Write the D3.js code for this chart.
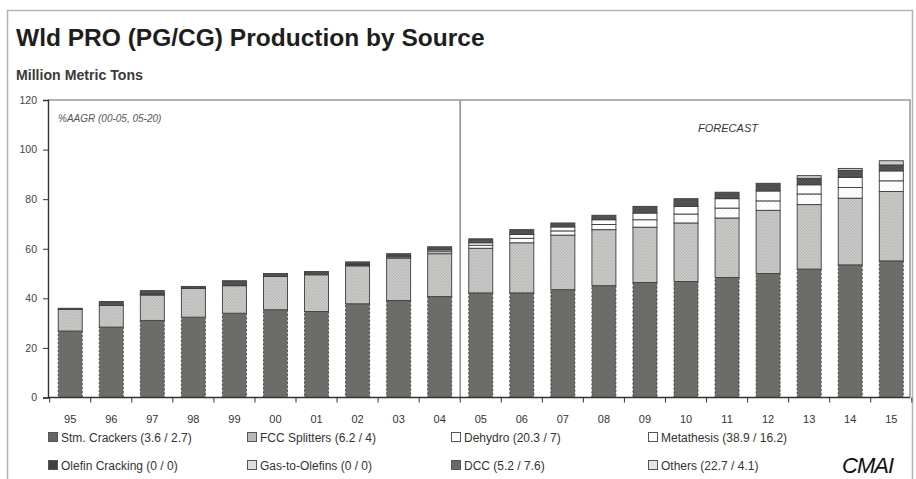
<!DOCTYPE html>
<html>
<head>
<meta charset="utf-8">
<script src="https://cdn.jsdelivr.net/npm/d3@7"></script>
<style>
  html, body { margin: 0; padding: 0; background: #fff; }
  svg { display: block; font-family: "Liberation Sans", Arial, sans-serif; }
</style>
</head>
<body>
<svg id="chart" width="916" height="479"></svg>
<script>
// Years on the category axis (two-digit labels)
const years = ["95","96","97","98","99","00","01","02","03","04",
               "05","06","07","08","09","10","11","12","13","14","15"];

// Production by source, million metric tons
const stmCrackers    = [26.8,28.4,31.1,32.4,34.0,35.4,34.7,37.8,39.1,40.7,42.2,42.2,43.5,45.1,46.4,46.8,48.4,50.0,51.8,53.5,55.1];
const fccSplitters   = [ 8.7, 8.7,10.2,11.6,11.1,13.4,14.8,15.3,17.1,17.3,18.0,20.2,22.0,22.6,22.3,23.6,24.0,25.5,26.0,26.9,28.0];
const dehydro        = [ 0.0, 0.0, 0.3, 0.0, 0.0, 0.0, 0.0, 0.4, 0.5, 0.8, 1.2, 1.8, 1.7, 2.1, 3.0, 3.6, 4.0, 3.8, 4.3, 4.3, 4.3];
const metathesis     = [ 0.0, 0.0, 0.2, 0.0, 0.0, 0.0, 0.0, 0.3, 0.4, 0.7, 1.0, 1.6, 1.6, 1.9, 2.7, 3.1, 3.8, 4.0, 3.7, 4.1, 4.0];
const olefinCracking = [ 0,0,0,0,0,0,0,0,0,0,0,0,0,0,0,0,0,0,0,0,0];
const gasToOlefins   = [ 0,0,0,0,0,0,0,0,0,0,0,0,0,0,0,0,0,0,0,0,0];
const dcc            = [ 0.5, 1.6, 1.3, 0.8, 2.0, 1.2, 1.3, 0.9, 0.9, 1.3, 1.6, 1.9, 1.6, 1.8, 2.7, 3.1, 2.6, 3.1, 2.6, 2.8, 2.4];
const others         = [ 0,0,0,0,0,0,0,0,0,0,0,0,0,0,0,0,0,0,1.1,0.8,1.7];

// Series names with %AAGR (00-05 / 05-20)
const seriesLabels = [
  "Stm. Crackers (3.6 / 2.7)", "FCC Splitters (6.2 / 4)", "Dehydro (20.3 / 7)", "Metathesis (38.9 / 16.2)",
  "Olefin Cracking (0 / 0)", "Gas-to-Olefins (0 / 0)", "DCC (5.2 / 7.6)", "Others (22.7 / 4.1)"
];
const seriesValues = [stmCrackers, fccSplitters, dehydro, metathesis, olefinCracking, gasToOlefins, dcc, others];
const stackOrder = [0, 1, 2, 3, 4, 5, 6, 7];

const yTicks = [0, 20, 40, 60, 80, 100, 120];
const firstForecast = "05";

const svg = d3.select("#chart");
const defs = svg.append("defs");

// Speckled fills in the style of an office-chart print
function dotPattern(id, bg, dot, size, r) {
  const p = defs.append("pattern").attr("id", id).attr("patternUnits", "userSpaceOnUse")
    .attr("width", size).attr("height", size);
  p.append("rect").attr("width", size).attr("height", size).attr("fill", bg);
  p.append("circle").attr("cx", size * 0.25).attr("cy", size * 0.25).attr("r", r).attr("fill", dot);
  p.append("circle").attr("cx", size * 0.75).attr("cy", size * 0.75).attr("r", r).attr("fill", dot);
}
dotPattern("pStm", "#6d6d69", "#62625f", 4, 0.6);
dotPattern("pFcc", "#c9c9c7", "#a9a9a7", 3, 0.55);
dotPattern("pDeh", "#ffffff", "#dcdcdc", 4, 0.5);
dotPattern("pMet", "#ffffff", "#e8e8e8", 4, 0.4);
dotPattern("pOlc", "#3a3a3a", "#222", 3, 0.5);
dotPattern("pGto", "#d6d6d6", "#bbb", 3, 0.5);
dotPattern("pDcc", "#595957", "#2e2e2e", 3, 0.6);
dotPattern("pOth", "#d2d2d0", "#b6b6b4", 3, 0.5);
const fills = ["url(#pStm)","url(#pFcc)","url(#pDeh)","url(#pMet)","url(#pOlc)","url(#pGto)","url(#pDcc)","url(#pOth)"];
const swatchFill = ["#666664","#b9b9b7","#ffffff","#ffffff","#404040","#dedede","#6a6a68","#e4e4e2"];

// Plot frame
const plot = { left: 48, right: 910, top: 100, bottom: 397.5 };

const x = d3.scaleBand().domain(years).range([50, 911.5]).paddingInner(0.415).paddingOuter(0.2);
const y = d3.scaleLinear().domain([0, 120]).range([plot.bottom, plot.top]);

// Outer border
svg.append("rect").attr("x", 7.5).attr("y", 10.5).attr("width", 905).attr("height", 480)
  .attr("fill", "none").attr("stroke", "#b4b4b4").attr("stroke-width", 1.5);

// Titles
function fitText(sel, width) {
  const w = sel.node().getComputedTextLength();
  const fs = parseFloat(sel.attr("font-size"));
  sel.attr("font-size", fs * width / w);
}
const title = svg.append("text").attr("x", 16).attr("y", 46).attr("font-size", 24)
  .attr("font-weight", "bold").attr("fill", "#1e1e1e").text("Wld PRO (PG/CG) Production by Source");
fitText(title, 469);
const unit = svg.append("text").attr("x", 16).attr("y", 80).attr("font-size", 11)
  .attr("font-weight", "bold").attr("fill", "#3a3a3a").text("Million Metric Tons");
fitText(unit, 127);

// Frame top and right edges
svg.append("path").attr("d", `M${plot.left},${plot.top}H${plot.right}V${plot.bottom}`)
  .attr("fill", "none").attr("stroke", "#9a9a9a").attr("stroke-width", 1.6);

// Forecast divider
const xDiv = x(firstForecast) - (x.step() - x.bandwidth()) / 2;
svg.append("line").attr("x1", xDiv).attr("x2", xDiv).attr("y1", plot.top).attr("y2", plot.bottom)
  .attr("stroke", "#9a9a9a").attr("stroke-width", 1.8);

// Stacked bars
const table = years.map((yr, i) => {
  const row = { year: yr };
  stackOrder.forEach(k => { row["s" + k] = seriesValues[k][i]; });
  return row;
});
const stack = d3.stack().keys(stackOrder.map(k => "s" + k));
const layers = stack(table);

const gBars = svg.append("g");
layers.forEach((layer, li) => {
  const k = stackOrder[li];
  gBars.append("g").selectAll("rect")
    .data(layer.filter(d => d[1] - d[0] > 0))
    .join("rect")
    .attr("x", d => x(d.data.year))
    .attr("width", x.bandwidth())
    .attr("y", d => y(d[1]))
    .attr("height", d => y(d[0]) - y(d[1]))
    .attr("fill", fills[k])
    .attr("stroke", "#3c3c3c")
    .attr("stroke-width", 0.9)
    .attr("stroke-dasharray", k === 0 ? "2,2" : null);
});

// Y axis
const yAxis = d3.axisLeft(y).tickValues(yTicks).tickSize(5).tickPadding(6);
const gy = svg.append("g").attr("transform", `translate(${plot.left},0)`).call(yAxis);
gy.select(".domain").attr("stroke", "#333").attr("stroke-width", 1.4);
gy.selectAll(".tick line").attr("stroke", "#333");
gy.selectAll(".tick text").attr("font-size", 10.5).attr("fill", "#444")
  .attr("font-family", "'Liberation Sans', Arial, sans-serif");

// X axis: ticks between categories
const gx = svg.append("g").attr("transform", `translate(0,${plot.bottom})`);
gx.append("line").attr("x1", plot.left).attr("x2", plot.right).attr("stroke", "#333").attr("stroke-width", 1.4);
const half = (x.step() - x.bandwidth()) / 2;
const bounds = years.map(yr => x(yr) - half).concat([x(years[years.length - 1]) + x.bandwidth() + half]);
gx.selectAll("line.tk").data(bounds).join("line").attr("class", "tk")
  .attr("x1", d => d).attr("x2", d => d).attr("y1", 0).attr("y2", 5).attr("stroke", "#333");
gx.selectAll("text").data(years).join("text")
  .attr("x", d => x(d) + x.bandwidth() / 2).attr("y", 25)
  .attr("text-anchor", "middle").attr("font-size", 11).attr("fill", "#333").text(d => d);

// Annotations
svg.append("text").attr("x", 58).attr("y", 122).attr("font-size", 10).attr("font-style", "italic")
  .attr("fill", "#555").text("%AAGR (00-05, 05-20)");
svg.append("text").attr("x", 728).attr("y", 132).attr("text-anchor", "middle").attr("font-size", 11)
  .attr("font-style", "italic").attr("fill", "#333").text("FORECAST");

// Legend: two rows of four
const legCols = [48, 247, 451, 648];
const legRows = [442, 470];
const gl = svg.append("g");
seriesLabels.forEach((lab, i) => {
  const cx = legCols[i % 4], cy = legRows[Math.floor(i / 4)];
  gl.append("rect").attr("x", cx + 0.5).attr("y", cy - 9.5).attr("width", 9).attr("height", 9)
    .attr("fill", swatchFill[i]).attr("stroke", "#555").attr("stroke-width", 1);
  gl.append("text").attr("x", cx + 13).attr("y", cy).attr("font-size", 12).attr("fill", "#333").text(lab);
});

// Company mark
svg.append("text").attr("x", 842).attr("y", 473).attr("font-size", 22).attr("font-style", "italic")
  .attr("fill", "#111").attr("letter-spacing", -1).text("CMAI");
</script>
</body>
</html>
